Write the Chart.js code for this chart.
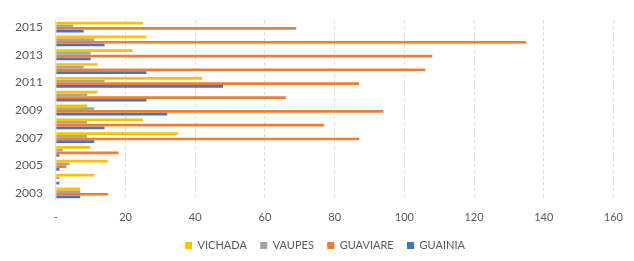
<!DOCTYPE html>
<html>
<head>
<meta charset="utf-8">
<script src="https://cdn.jsdelivr.net/npm/chart.js@4"></script>
<style>
  html, body { margin: 0; padding: 0; background: #fff; }
  #wrap { width: 634px; height: 261px; }
</style>
</head>
<body>
<div id="wrap"><canvas id="chart" width="634" height="261"></canvas></div>
<script>
const years = ["2003", "2004", "2005", "2006", "2007", "2008", "2009", "2010", "2011", "2012", "2013", "2014", "2015"];
const vichada = [7, 11, 15, 10, 35, 25, 9, 12, 42, 12, 22, 26, 25];
const vaupes = [7, 1, 4, 2, 9, 9, 11, 9, 14, 8, 10, 11, 5];
const guaviare = [15, 0, 3, 18, 87, 77, 94, 66, 87, 106, 108, 135, 69];
const guainia = [7, 1, 1, 1, 11, 14, 32, 26, 48, 26, 10, 14, 8];
const xTicks = [0, 20, 40, 60, 80, 100, 120, 140, 160];

const FONT = "Lato, 'Open Sans', sans-serif";
const TEXT = "#595959";

const series = (label, data, color) => ({
  label, data, backgroundColor: color, borderWidth: 0,
  categoryPercentage: 0.78, barPercentage: 1,
});

// legend sits a little right of centre in the original
const nudgeLegend = {
  id: "nudgeLegend",
  afterLayout(chart) {
    chart.legend.left += 12;
    chart.legend.right += 12;
  },
};

new Chart(document.getElementById("chart"), {
  type: "bar",
  data: {
    labels: years,
    datasets: [
      series("VICHADA", vichada, "#FFC000"),
      series("VAUPES", vaupes, "#A5A5A5"),
      series("GUAVIARE", guaviare, "#ED7D31"),
      series("GUAINIA", guainia, "#4472C4"),
    ],
  },
  plugins: [nudgeLegend],
  options: {
    indexAxis: "y",
    responsive: false,
    animation: false,
    layout: { padding: { left: 2, right: 10, top: 14, bottom: 0 } },
    scales: {
      x: {
        min: 0, max: 160,
        afterBuildTicks: (axis) => { axis.ticks = xTicks.map((v) => ({ value: v })); },
        ticks: {
          color: TEXT, font: { family: FONT, size: 11 }, padding: 11,
          callback: (v) => (v === 0 ? "-" : v),
        },
        grid: { color: "#d9d9d9", drawTicks: false },
        border: { display: false, dash: [3, 3] },
      },
      y: {
        reverse: true,
        ticks: {
          color: TEXT, font: { family: FONT, size: 12 }, padding: 13, autoSkip: false,
          callback: function (v, i) { return i % 2 === 0 ? this.getLabelForValue(v) : ""; },
        },
        grid: { display: false, drawTicks: false },
        border: { display: true, color: "#d9d9d9" },
      },
    },
    plugins: {
      legend: {
        position: "bottom",
        labels: {
          color: TEXT, font: { family: FONT, size: 11 },
          boxWidth: 7, boxHeight: 7, padding: 5,
          generateLabels: (chart) =>
            Chart.defaults.plugins.legend.labels.generateLabels(chart).map((item, i, all) => {
              if (i < all.length - 1) item.text += "\u2002 ";
              return item;
            }),
        },
      },
      tooltip: { enabled: false },
    },
  },
});
</script>
</body>
</html>
